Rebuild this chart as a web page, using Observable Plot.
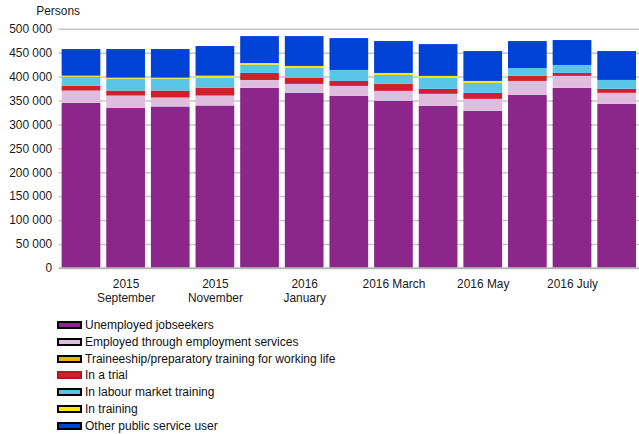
<!DOCTYPE html>
<html><head><meta charset="utf-8">
<script src="https://cdn.jsdelivr.net/npm/d3@7"></script>
<script src="https://cdn.jsdelivr.net/npm/@observablehq/plot@0.6"></script>
<style>
html,body{margin:0;padding:0;background:#fff;overflow:hidden}
body{width:639px;font-family:"Liberation Sans",Arial,sans-serif}
#legend{margin-top:9px;padding-left:57px;font-size:12px;color:#111}
.row{height:16.7px;display:flex;align-items:center}
.sw{width:21px;height:4px;border:2px solid #000;margin-right:3px;box-sizing:content-box}
</style></head><body><div id="chart"></div><div id="legend"></div>
<script>
const months = ["2015 August","2015 September","2015 October","2015 November","2015 December","2016 January","2016 February","2016 March","2016 April","2016 May","2016 June","2016 July","2016 August"];
const tickMonths = ["2015 September","2015 November","2016 January","2016 March","2016 May","2016 July"];
const tickLabels = ["2015\nSeptember","2015\nNovember","2016\nJanuary","2016 March","2016 May","2016 July"];
const yTicks = [0,50000,100000,150000,200000,250000,300000,350000,400000,450000,500000];

const seriesNames = ["Unemployed jobseekers","Employed through employment services","Traineeship/preparatory training for working life","In a trial","In labour market training","In training","Other public service user"];
const seriesColors = ["#8c268b","#dfbddf","#f0b400","#d0202e","#5bc5e8","#ffe600","#0041d6"];

const unemployed = [345200,334800,337500,339600,376500,366000,359800,349400,339000,328500,362000,376500,343100];
const employed   = [25600,25600,18800,20800,16500,18800,20800,20800,25000,25000,29000,25000,23000];
const traineeship= [0,0,0,0,0,0,0,0,0,0,0,0,0];
const trial      = [9800,10400,14500,16600,14700,12500,10400,14600,10400,12500,10500,6200,8400];
const labourTraining = [19400,25000,25000,20300,17300,20700,23000,18700,22900,20900,16500,16700,18600];
const inTraining = [2000,2100,2100,4700,3500,4300,0,4200,4200,4100,0,0,0];
const otherUser  = [55700,59800,59800,62000,56300,62500,66600,66700,66500,62500,56400,52100,60400];

const seriesValues = [unemployed,employed,traineeship,trial,labourTraining,inTraining,otherUser];
const rows = [];
months.forEach((m,i)=>{
  seriesNames.forEach((s,j)=>rows.push({month:m, series:s, value:seriesValues[j][i]}));
});
const labelMap = new Map(tickMonths.map((m,i)=>[m,tickLabels[i]]));
const fmt = d => d3.format(",")(d).replace(/,/g," ");

const plot = Plot.plot({
  width: 643, height: 310,
  marginLeft: 59, marginRight: 0, marginTop: 29, marginBottom: 40.5,
  style: {fontFamily: "'Liberation Sans', Arial, sans-serif", fontSize: "12px", color: "#1a1a1a", background: "white", display: "block"},
  x: {domain: months, paddingInner: 0.133, paddingOuter: 0.067, round: false, label: null, axis: null},
  y: {domain: [0, 500000], label: null, axis: null},
  color: {domain: seriesNames, range: seriesColors},
  marks: [
    Plot.ruleY(yTicks.filter(d => d > 0), {stroke: "#c6c6c6", strokeWidth: 1.5}),
    Plot.barY(rows, {x: "month", y: "value", fill: "series"}),
    Plot.ruleY([0], {stroke: "#b4b4b4", strokeWidth: 2}),
    Plot.axisY({ticks: yTicks, tickSize: 0, tickPadding: 7, tickFormat: fmt, fontSize: 12}),
    Plot.axisX({ticks: tickMonths, tickSize: 0, tickPadding: 10, tickFormat: d => labelMap.get(d), fontSize: 12, lineHeight: 1.15}),
    Plot.text(["Persons"], {frameAnchor: "top-left", dx: -23, dy: -18, textAnchor: "start", lineAnchor: "middle", fontSize: 12})
  ]
});
document.getElementById("chart").appendChild(plot);

const legend = document.getElementById("legend");
seriesNames.forEach((s,i)=>{
  const row = document.createElement("div"); row.className = "row";
  const sw = document.createElement("span"); sw.className = "sw";
  sw.style.background = seriesColors[i];
  if (s === "In a trial") sw.style.borderColor = "#b01822";
  const t = document.createElement("span"); t.textContent = s;
  row.appendChild(sw); row.appendChild(t); legend.appendChild(row);
});
</script></body></html>
